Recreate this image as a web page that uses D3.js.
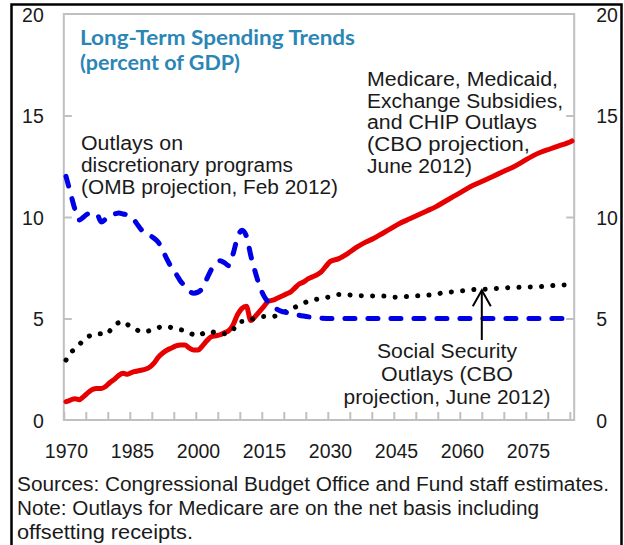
<!DOCTYPE html>
<html><head><meta charset="utf-8">
<script src="https://cdn.jsdelivr.net/npm/d3@7"></script>
<style>body{margin:0;background:#fff}svg{display:block}</style>
</head><body><svg id="c" width="624" height="545"></svg>
<script>
// ---- data ----
const medYears = [1970,1971,1972,1973,1974,1975,1976,1977,1978,1979,1980,1981,1982,1983,1984,1985,1986,1987,1988,1989,1990,1991,1992,1993,1994,1995,1996,1997,1998,1999,2000,2001,2002,2003,2004,2005,2006,2007,2008,2009,2010,2011,2012,2013,2014,2015,2016,2017,2018,2019,2020,2021,2022,2023,2024,2025,2026,2027,2028,2029,2030,2032,2034,2036,2038,2040,2042,2044,2046,2048,2050,2052,2054,2056,2058,2060,2062,2064,2066,2068,2070,2072,2074,2076,2078,2080,2082,2084,2085];
const medValues = [0.9,0.98,1.05,1.0,1.15,1.35,1.5,1.55,1.55,1.65,1.85,2.0,2.2,2.3,2.25,2.35,2.4,2.45,2.5,2.6,2.8,3.1,3.3,3.45,3.55,3.65,3.7,3.7,3.55,3.45,3.45,3.65,3.9,4.1,4.15,4.2,4.3,4.4,4.7,5.2,5.5,5.6,4.9,5.1,5.35,5.6,5.85,5.9,6.0,6.1,6.2,6.3,6.5,6.7,6.8,6.95,7.05,7.15,7.3,7.55,7.8,7.95,8.2,8.5,8.75,8.95,9.2,9.45,9.7,9.9,10.1,10.3,10.5,10.75,11.0,11.25,11.5,11.7,11.9,12.1,12.3,12.5,12.75,13.0,13.2,13.35,13.5,13.65,13.75];

const discYears = [1970,1971,1972,1973,1974,1975,1976,1977,1978,1979,1980,1981,1982,1983,1984,1985,1986,1987,1988,1989,1990,1991,1992,1993,1994,1995,1996,1997,1998,1999,2000,2001,2002,2003,2004,2005,2006,2007,2008,2009,2010,2011,2012,2013,2014,2015,2016,2017,2018,2019,2020,2022,2024,2026,2028,2030,2085];
const discValues = [12.0,11.2,10.4,9.85,10.0,10.15,10.1,10.15,9.75,9.9,10.1,10.15,10.2,10.15,10.1,10.0,9.7,9.4,9.2,9.1,8.95,8.75,8.35,7.9,7.5,7.2,6.85,6.6,6.35,6.25,6.3,6.5,6.95,7.4,7.7,7.85,7.75,7.6,8.2,9.0,9.35,9.05,8.1,7.3,6.6,6.1,5.8,5.6,5.45,5.35,5.3,5.2,5.12,5.06,5.02,5.0,5.0];

const ssYears = [1970,1971,1972,1973,1974,1975,1976,1977,1978,1979,1980,1981,1982,1983,1984,1985,1986,1987,1988,1989,1990,1991,1992,1993,1994,1995,1996,1997,1998,1999,2000,2001,2002,2003,2004,2005,2006,2007,2008,2009,2010,2011,2012,2013,2014,2015,2016,2017,2018,2019,2020,2021,2022,2023,2024,2025,2026,2027,2028,2030,2032,2034,2036,2038,2040,2043,2045,2047,2050,2053,2056,2058,2061,2063,2066,2069,2072,2075,2078,2081,2085];
const ssValues = [2.95,3.3,3.5,3.7,3.95,4.1,4.2,4.25,4.25,4.2,4.4,4.65,4.8,4.85,4.7,4.55,4.45,4.35,4.35,4.4,4.45,4.55,4.6,4.6,4.55,4.5,4.45,4.4,4.3,4.2,4.15,4.25,4.35,4.35,4.3,4.3,4.25,4.3,4.45,4.8,4.85,4.85,4.95,5.0,5.05,5.1,5.1,5.1,5.15,5.25,5.35,5.45,5.55,5.65,5.75,5.85,5.9,5.95,6.0,6.07,6.18,6.17,6.13,6.12,6.11,6.1,6.05,6.08,6.12,6.17,6.27,6.32,6.38,6.43,6.45,6.5,6.53,6.55,6.57,6.63,6.66];

const yTickValues = [0,5,10,15,20];
const xTickLabels = [1970,1985,2000,2015,2030,2045,2060,2075];
const xMinorTicks = [1969.5,1974.5,1979.5,1984.5,1989.5,1994.5,1999.5,2004.5,2009.5,2014.5,2019.5,2024.5,2029.5,2034.5,2039.5,2044.5,2049.5,2054.5,2059.5,2064.5,2069.5,2074.5,2079.5,2084.5];

const titleLines = ["Long-Term Spending Trends","(percent of GDP)"];
const discLabel = ["Outlays on","discretionary programs","(OMB projection, Feb 2012)"];
const medLabel = ["Medicare, Medicaid,","Exchange Subsidies,","and CHIP Outlays","(CBO projection,","June 2012)"];
const ssLabel = ["Social Security","Outlays (CBO","projection, June 2012)"];
const notes = ["Sources: Congressional Budget Office and Fund staff estimates.","Note: Outlays for Medicare are on the net basis including","offsetting receipts."];
const arrowYear = 2064.5;

// ---- drawing ----
const svg = d3.select('#c');
svg.append('rect').attr('width',624).attr('height',545).attr('fill','#fff');

const x = d3.scaleLinear().domain([1969.5, 2085.5]).range([63.8, 574.2]);
const y = d3.scaleLinear().domain([0, 20]).range([420, 14]);
const FONT = "'Liberation Sans', Arial, sans-serif";

// outer frame
svg.append('rect').attr('x',11.5).attr('y',4.5).attr('width',610).attr('height',600)
  .attr('fill','none').attr('stroke','#000').attr('stroke-width',2.5);

// plot frame
svg.append('rect').attr('x',x.range()[0]).attr('y',y(20)).attr('width',x.range()[1]-x.range()[0]).attr('height',y(0)-y(20))
  .attr('fill','none').attr('stroke','#c0c0c0').attr('stroke-width',2);

function styleAxis(g){ g.select('.domain').remove(); g.selectAll('line').attr('stroke','#c0c0c0').attr('stroke-width',2); }

// x tick marks
svg.append('g').attr('transform',`translate(0,${y(0)})`)
  .call(d3.axisBottom(x).tickValues(xMinorTicks).tickSize(-8).tickFormat(''))
  .call(styleAxis);
// x labels
const xl = svg.append('g').attr('transform',`translate(0,${y(0)})`)
  .call(d3.axisBottom(x).tickValues(xTickLabels).tickSize(0).tickPadding(0).tickFormat(d3.format('d')))
  .call(styleAxis);
xl.selectAll('text').attr('y',38).attr('dy',null).attr('font-family',FONT).attr('font-size',19.5).attr('fill','#1a1a1a');

// y ticks left/right
svg.append('g').attr('transform',`translate(${x.range()[0]},0)`)
  .call(d3.axisLeft(y).tickValues([5,10,15]).tickSize(-8).tickFormat('')).call(styleAxis);
svg.append('g').attr('transform',`translate(${x.range()[1]},0)`)
  .call(d3.axisRight(y).tickValues([5,10,15]).tickSize(-8).tickFormat('')).call(styleAxis);
const yl = svg.append('g').attr('transform',`translate(${x.range()[0]},0)`)
  .call(d3.axisLeft(y).tickValues(yTickValues).tickSize(0).tickPadding(20)).call(styleAxis);
const yr = svg.append('g').attr('transform',`translate(${x.range()[1]},0)`)
  .call(d3.axisRight(y).tickValues(yTickValues).tickSize(0).tickPadding(22)).call(styleAxis);
[yl,yr].forEach(g=>g.selectAll('text').attr('font-family',FONT).attr('font-size',19.5).attr('fill','#1a1a1a').attr('dy','0.36em'));

// series
const line = d3.line().x(d=>x(d[0])).y(d=>y(d[1])).curve(d3.curveMonotoneX);
const med = d3.zip(medYears, medValues), disc = d3.zip(discYears, discValues), ss = d3.zip(ssYears, ssValues);

svg.append('path').datum(med).attr('d',line).attr('fill','none').attr('stroke','#e60000')
  .attr('stroke-width',5).attr('stroke-linejoin','round').attr('stroke-linecap','round');
svg.append('path').datum(ss).attr('d',line).attr('fill','none').attr('stroke','#000')
  .attr('stroke-width',5).attr('stroke-dasharray','0.1 11.2').attr('stroke-linecap','round');
svg.append('path').datum(disc).attr('d',line).attr('fill','none').attr('stroke','#0000e6')
  .attr('stroke-width',5).attr('stroke-dasharray','10 13').attr('stroke-linecap','round').attr('stroke-linejoin','round');

// arrow to social security line
const ssAt = d3.scaleLinear().domain(ssYears).range(ssValues);
const ax = x(arrowYear), ay = y(ssAt(arrowYear));
svg.append('line').attr('x1',ax).attr('x2',ax).attr('y1',ay+1).attr('y2',340).attr('stroke','#000').attr('stroke-width',2);
svg.append('path').attr('d',`M${ax-9},${ay+17}L${ax},${ay+1}L${ax+9},${ay+17}`).attr('fill','none').attr('stroke','#000').attr('stroke-width',2);

// text helper
function block(lines, x0, y0, lh, opts){
  const t = svg.append('g');
  lines.forEach((s,i)=>{
    const el = t.append('text').attr('x',x0).attr('y',y0+i*lh).text(s)
      .attr('font-family',opts.family||FONT).attr('font-size',opts.size).attr('fill',opts.fill||'#1a1a1a')
      .attr('text-anchor',opts.anchor||'start').attr('font-weight',opts.weight||'normal');
    if(opts.widths && opts.widths[i]) el.attr('textLength',opts.widths[i]).attr('lengthAdjust','spacingAndGlyphs');
  });
}
block(titleLines, 80, 45, 25, {size:20, weight:'bold', family:"Lato, 'Open Sans', sans-serif", fill:'#2b86b6', widths:[275,160]});
block(discLabel, 81, 150, 22, {size:20, widths:[102,212,257]});
block(medLabel, 367, 86, 21.7, {size:20, widths:[191,196,170,163,105]});
block(ssLabel, 447, 358, 23, {size:20, anchor:'middle', widths:[140,132,207]});
block(notes, 17, 491, 24, {size:20, widths:[592,522,176]});
</script></body></html>
